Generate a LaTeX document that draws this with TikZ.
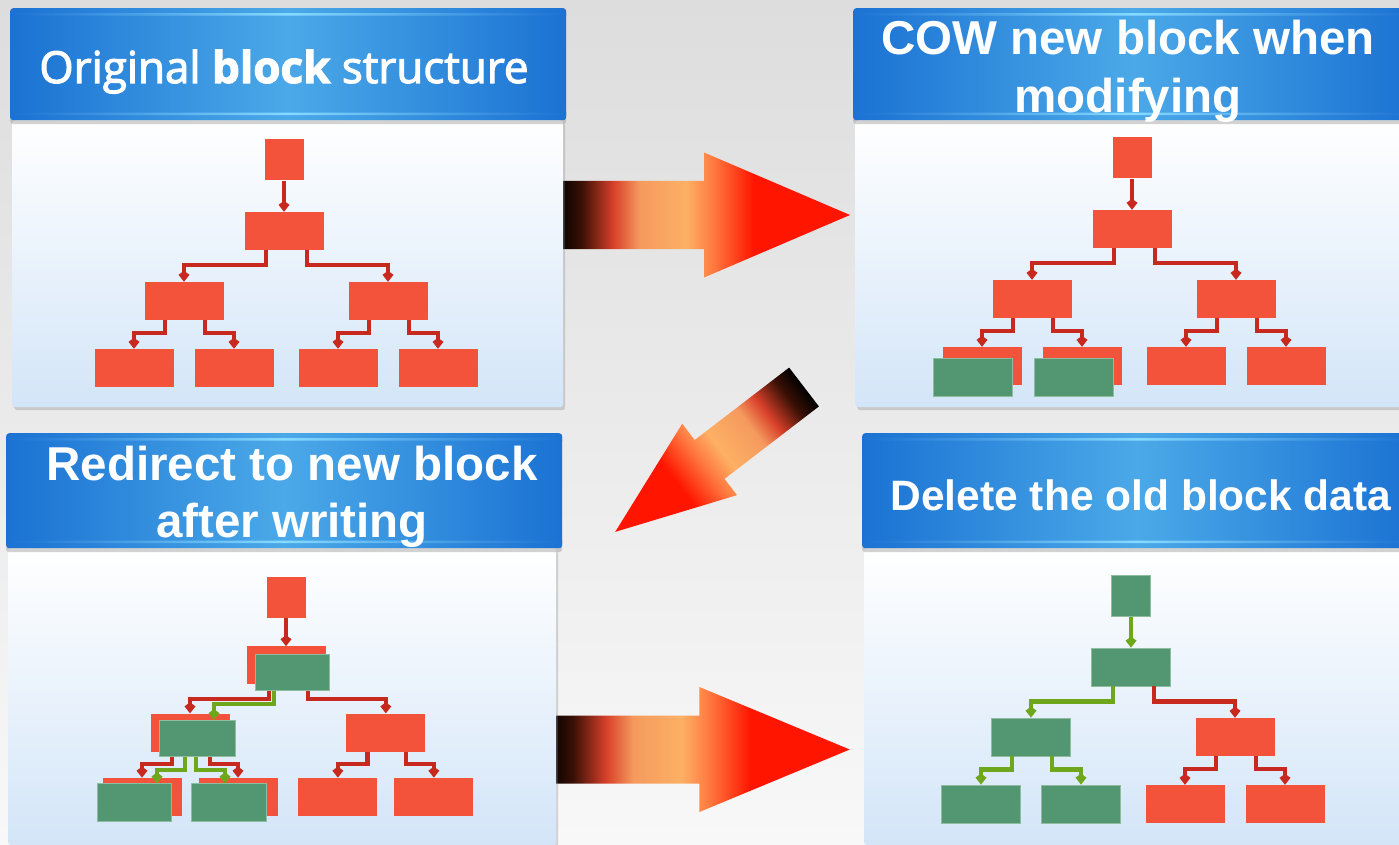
\documentclass[tikz,border=0pt]{standalone}
\usepackage{fontspec}
\setmainfont{Liberation Sans}
\newfontfamily\segoe[FakeBold=2.5]{Open Sans}
\usetikzlibrary{arrows.meta, positioning, calc, shadows}
\definecolor{bgtop}{HTML}{DDDDDD}
\definecolor{bgbottom}{HTML}{F8F8F8}
\definecolor{headblue}{HTML}{1B72D3}
\definecolor{headlight}{HTML}{4BA9E8}
\definecolor{headglow}{HTML}{86DBFF}
\definecolor{bodyblue}{HTML}{D3E5F8}
\definecolor{blockred}{HTML}{F3533A}
\definecolor{blockgreen}{HTML}{539672}
\definecolor{greenedge}{HTML}{8DBD9E}
\definecolor{linkred}{HTML}{C8291F}
\definecolor{linkgreen}{HTML}{6FA71C}
\definecolor{arrowbrown}{HTML}{3A1005}
\definecolor{arrowrust}{HTML}{D8402A}
\definecolor{arrowtan}{HTML}{F59A5E}
\definecolor{arrowpeach}{HTML}{FDB064}
\definecolor{arroworange}{HTML}{FF7A40}
\definecolor{arrowred}{HTML}{FF1500}

\pgfdeclarehorizontalshading{firearrow}{100bp}{color(0bp)=(black); color(25bp)=(black);
  color(29bp)=(arrowbrown); color(34.5bp)=(arrowrust); color(39bp)=(arrowtan);
  color(47bp)=(arrowpeach); color(51.5bp)=(arroworange); color(58.5bp)=(arrowred);
  color(100bp)=(arrowred)}

\tikzset{
  body/.style={anchor=north west, rounded corners=3pt, top color=white, bottom color=bodyblue,
    drop shadow={shadow xshift=2pt, shadow yshift=-3pt, opacity=0.3}},
  head/.style={anchor=north west, rounded corners=3pt, left color=headblue, right color=headblue,
    middle color=headlight, drop shadow={shadow xshift=0pt, shadow yshift=-4pt, opacity=0.35},
    path picture={
      \shade[left color=headblue, right color=headblue, middle color=headglow]
        ([yshift=-5pt]path picture bounding box.north west) rectangle ([yshift=-7.5pt]path picture bounding box.north east);
      \shade[left color=headblue, right color=headblue, middle color=headglow]
        ([yshift=5pt]path picture bounding box.south west) rectangle ([yshift=7.5pt]path picture bounding box.south east);
    }},
  title/.style={text=white, align=center, inner sep=0pt},
  redblock/.style={minimum width=79pt, minimum height=38pt, inner sep=0pt, fill=blockred},
  greenblock/.style={redblock, fill=blockgreen, draw=greenedge, line width=0.8pt},
  redlink/.style={draw=linkred, line width=4.2pt, -{Kite[length=11pt,width=11pt,inset=4pt]}},
  greenlink/.style={redlink, draw=linkgreen}
}

\begin{document}
\begin{tikzpicture}[x=1pt, y=-1pt]
  \useasboundingbox (0,0) rectangle (1399,845);
  \shade[top color=bgtop, bottom color=bgbottom] (0,0) rectangle (1399,845);

  % Fat arrows between the panels
  \begin{scope}[transform canvas={shift={(558,215)}}]
    \shade[shading=firearrow] (0,-34) -- (146,-34) -- (146,-62.5) -- (292,0) -- (146,62.5) -- (146,34) -- (0,34) -- cycle;
  \end{scope}
  \begin{scope}[transform canvas={shift={(804,387)}, rotate=217.5, xscale=0.815, yscale=0.72}]
    \shade[shading=firearrow] (0,-34) -- (146,-34) -- (146,-62.5) -- (292,0) -- (146,62.5) -- (146,34) -- (0,34) -- cycle;
  \end{scope}
  \begin{scope}[transform canvas={shift={(549,749.5)}, xscale=1.03}]
    \shade[shading=firearrow] (0,-34) -- (146,-34) -- (146,-62.5) -- (292,0) -- (146,62.5) -- (146,34) -- (0,34) -- cycle;
  \end{scope}

  % Panels
  \node[body, minimum width=551pt, minimum height=287pt] (o-body) at (12,120) {};
  \node[head, minimum width=556pt, minimum height=112pt] (o-head) at (10,8) {};
  \node[body, minimum width=560pt, minimum height=287pt] (c-body) at (855,120) {};
  \node[head, minimum width=560pt, minimum height=112pt] (c-head) at (853,8) {};
  \node[body, minimum width=548pt, minimum height=297pt] (w-body) at (8,548) {};
  \node[head, minimum width=556pt, minimum height=115pt] (w-head) at (6,433) {};
  \node[body, minimum width=550pt, minimum height=297pt] (d-body) at (864,548) {};
  \node[head, minimum width=550pt, minimum height=115pt] (d-head) at (862,433) {};

  % Titles (base = last line)
  \node[title, anchor=base, font=\segoe\fontsize{44}{50}\selectfont] (o-title) at (284,83)
    {Original \textbf{block} structure};
  \node[title, anchor=base, font=\fontsize{47.5}{58}\selectfont\bfseries] (c-title) at (1128,113)
    {COW new block when\\modifying};
  \node[title, anchor=base, font=\fontsize{47.5}{57}\selectfont\bfseries] (w-title) at (292,537)
    {Redirect to new block\\after writing};
  \node[title, anchor=base, font=\fontsize{42.5}{50}\selectfont\bfseries] (d-title) at (1141,510)
    {Delete the old block data};

  % Block trees
  \foreach \p/\x/\y/\s/\c/\k in {o/284/140/1/redblock/redlink, c/1132/138/1/redblock/redlink,
    w/286/578/0.96/redblock/redlink, d/1131/576/1/greenblock/greenlink} {
    \begin{scope}[shift={(\x,\y)}, scale=\s]
      \node[\c, minimum width=39pt, minimum height=41pt] (\p-root) at (0,20) {};
      \node[\c] (\p-mid) at (0,91) {};
      \node[\c] (\p-l) at (-100,161) {};
      \node[redblock] (\p-r) at (104,161) {};
      \node[\c] (\p-ll) at (-150,228) {};
      \node[\c] (\p-lr) at (-50,228) {};
      \node[redblock] (\p-rl) at (54,228) {};
      \node[redblock] (\p-rr) at (154,228) {};
      \draw[\k] (\p-root) -- (\p-mid);
      \draw[\k] ([xshift=-18pt]\p-mid.south) -- ++(0,15) -| (\p-l.north);
      \draw[redlink] ([xshift=23pt]\p-mid.south) -- ++(0,15) -| (\p-r.north);
      \draw[\k] ([xshift=-19pt]\p-l.south) -- ++(0,13) -| (\p-ll.north);
      \draw[\k] ([xshift=21pt]\p-l.south) -- ++(0,13) -| (\p-lr.north);
      \draw[redlink] ([xshift=-19pt]\p-r.south) -- ++(0,13) -| (\p-rl.north);
      \draw[redlink] ([xshift=21pt]\p-r.south) -- ++(0,13) -| (\p-rr.north);
    \end{scope}
  }

  % Copied blocks (COW)
  \node[greenblock] (c-gll) at ($(c-ll)+(-9,11)$) {};
  \node[greenblock] (c-glr) at ($(c-lr)+(-8,11)$) {};

  % Redirected pointers
  \node[greenblock, minimum width=74pt, minimum height=36pt] (w-gmid) at ($(w-mid)+(6,7)$) {};
  \node[greenblock, minimum width=76pt, minimum height=36pt] (w-gl) at ($(w-l)+(7,6)$) {};
  \node[greenblock, minimum width=74pt] (w-gll) at ($(w-ll)+(-8,6)$) {};
  \node[greenblock, minimum width=75pt] (w-glr) at ($(w-lr)+(-9,6)$) {};
  \draw[greenlink] ([xshift=-18pt]w-gmid.south) -- ++(0,13) -| ([xshift=17pt]w-gl.north);
  \draw[greenlink] ([xshift=-12pt]w-gl.south) -- ++(0,13) -| ([xshift=23pt]w-gll.north);
  \draw[greenlink] ([xshift=-1pt]w-gl.south) -- ++(0,13) -| ([xshift=-4pt]w-glr.north);
\end{tikzpicture}
\end{document}
